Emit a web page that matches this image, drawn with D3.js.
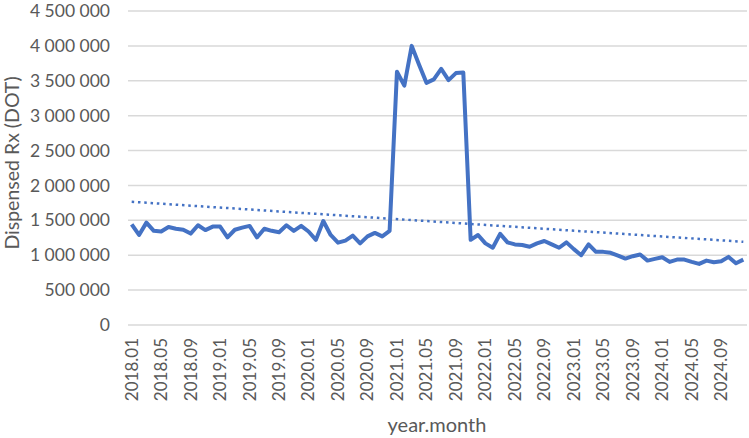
<!DOCTYPE html>
<html>
<head>
<meta charset="utf-8">
<script src="https://cdn.jsdelivr.net/npm/d3@7"></script>
<style>
  body { margin: 0; background: #fff; }
  text { font-family: Lato, "Open Sans", sans-serif; fill: #595959; }
</style>
</head>
<body>
<svg id="chart" width="749" height="438"></svg>
<script>
// months, 2018.01 .. 2024.12
let months = [
  "2018.01","2018.02","2018.03","2018.04","2018.05","2018.06","2018.07","2018.08","2018.09","2018.10","2018.11","2018.12",
  "2019.01","2019.02","2019.03","2019.04","2019.05","2019.06","2019.07","2019.08","2019.09","2019.10","2019.11","2019.12",
  "2020.01","2020.02","2020.03","2020.04","2020.05","2020.06","2020.07","2020.08","2020.09","2020.10","2020.11","2020.12",
  "2021.01","2021.02","2021.03","2021.04","2021.05","2021.06","2021.07","2021.08","2021.09","2021.10","2021.11","2021.12",
  "2022.01","2022.02","2022.03","2022.04","2022.05","2022.06","2022.07","2022.08","2022.09","2022.10","2022.11","2022.12",
  "2023.01","2023.02","2023.03","2023.04","2023.05","2023.06","2023.07","2023.08","2023.09","2023.10","2023.11","2023.12",
  "2024.01","2024.02","2024.03","2024.04","2024.05","2024.06","2024.07","2024.08","2024.09","2024.10","2024.11","2024.12"
];

let dispensed = [
  1443000,1290000,1467000,1350000,1340000,1405000,1380000,1365000,1310000,1430000,1360000,1410000,
  1410000,1255000,1365000,1395000,1420000,1255000,1380000,1350000,1330000,1430000,1349000,1420000,
  1340000,1220000,1490000,1290000,1180000,1210000,1280000,1170000,1270000,1320000,1270000,1350000,
  3630000,3430000,4000000,3730000,3470000,3520000,3670000,3510000,3610000,3620000,1220000,1290000,
  1170000,1107000,1306000,1184000,1155000,1146000,1121000,1170000,1204000,1155000,1107000,1184000,
  1087000,1000000,1155000,1048000,1048000,1034000,995000,952000,986000,1010000,923000,947000,
  971000,904000,937000,937000,904000,875000,923000,899000,913000,976000,885000,937000
];

let yTicks = [0,500000,1000000,1500000,2000000,2500000,3000000,3500000,4000000,4500000];
let xTickLabels = months.filter((m, i) => i % 4 === 0);

let svg = d3.select("#chart");

let plotLeft = 128, plotRight = 747, plotTop = 11, plotBottom = 325;

let xScale = d3.scalePoint()
    .domain(months)
    .range([plotLeft, plotRight])
    .padding(0.5);
let yScale = d3.scaleLinear()
    .domain([0, 4500000])
    .range([plotBottom, plotTop]);

let fmt = d3.formatLocale({decimal: ".", thousands: " ", grouping: [3], currency: ["", ""]}).format(",d");

// gridlines
svg.append("g")
    .selectAll("line")
    .data(yTicks)
    .join("line")
    .attr("x1", plotLeft)
    .attr("x2", plotRight)
    .attr("y1", d => yScale(d))
    .attr("y2", d => yScale(d))
    .style("stroke", "#d9d9d9")
    .style("stroke-width", "1.5px");

// y labels
svg.append("g")
    .selectAll("text")
    .data(yTicks)
    .join("text")
    .attr("x", 110)
    .attr("y", d => yScale(d))
    .attr("dy", "0.35em")
    .attr("text-anchor", "end")
    .style("font-size", "17.5px")
    .text(d => fmt(d));

// x labels
svg.append("g")
    .selectAll("text")
    .data(xTickLabels)
    .join("text")
    .attr("transform", d => "translate(" + xScale(d) + ",338) rotate(-90)")
    .attr("dy", "0.35em")
    .attr("text-anchor", "end")
    .style("font-size", "17px")
    .text(d => d);

// linear trendline (least squares on the series)
let n = dispensed.length;
let xs = d3.range(1, n + 1);
let mx = d3.mean(xs), my = d3.mean(dispensed);
let slope = d3.sum(xs, (x, i) => (x - mx) * (dispensed[i] - my)) / d3.sum(xs, x => (x - mx) * (x - mx));
let icpt = my - slope * mx;
let trend = [0, n - 1].map(i => ({m: months[i], v: icpt + slope * (i + 1)}));

svg.append("path")
    .datum(trend)
    .attr("d", d3.line().x(d => xScale(d.m)).y(d => yScale(d.v)))
    .style("fill", "none")
    .style("stroke", "#4472c4")
    .style("stroke-width", "2.5px")
    .style("stroke-dasharray", "2.5 3.8");

// main series
let series = months.map((m, i) => ({m: m, v: dispensed[i]}));
svg.append("path")
    .datum(series)
    .attr("d", d3.line().x(d => xScale(d.m)).y(d => yScale(d.v)))
    .style("fill", "none")
    .style("stroke", "#4472c4")
    .style("stroke-width", "4px")
    .style("stroke-linejoin", "round");

// axis titles
svg.append("text")
    .attr("x", 437)
    .attr("y", 432)
    .attr("text-anchor", "middle")
    .style("font-size", "20px")
    .text("year.month");

svg.append("text")
    .attr("transform", "translate(18.5,163) rotate(-90)")
    .attr("text-anchor", "middle")
    .style("font-size", "19.5px")
    .text("Dispensed Rx (DOT)");
</script>
</body>
</html>
